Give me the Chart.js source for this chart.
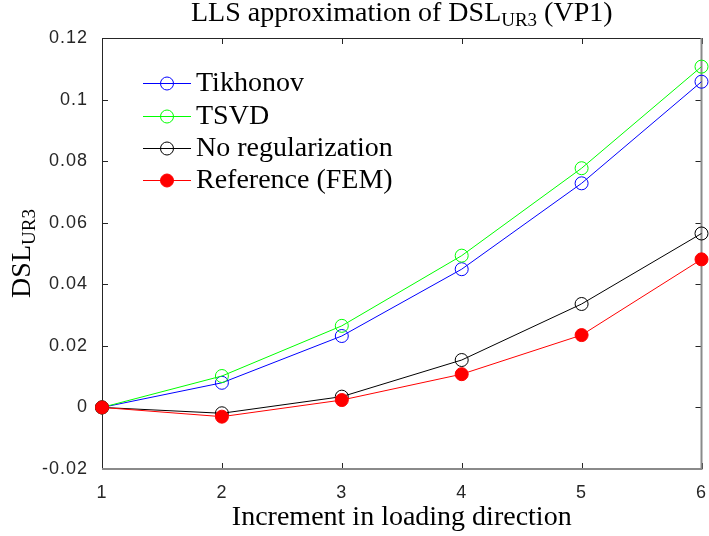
<!DOCTYPE html>
<html>
<head>
<meta charset="utf-8">
<script src="https://cdn.jsdelivr.net/npm/chart.js@4.4.1/dist/chart.umd.min.js"></script>
<style>
  html, body { margin: 0; padding: 0; background: #ffffff; }
  #wrap { width: 709px; height: 536px; }
</style>
</head>
<body>
<div id="wrap"><canvas id="c" width="709" height="536"></canvas></div>
<script>
// Increment index along the loading direction
const increments = [1, 2, 3, 4, 5, 6];

// DSL_UR3 estimates per method
const tikhonov  = [0, 0.0080, 0.0232, 0.0449, 0.0728, 0.1058];
const tsvd      = [0, 0.0102, 0.0265, 0.0493, 0.0777, 0.1107];
const noReg     = [0, -0.0019, 0.0035, 0.0154, 0.0336, 0.0565];
const reference = [0, -0.0030, 0.0024, 0.0108, 0.0235, 0.0481];

const seriesNames = ['Tikhonov', 'TSVD', 'No regularization', 'Reference (FEM)'];

const xTickValues = [1, 2, 3, 4, 5, 6];
const xTickLabels = ['1', '2', '3', '4', '5', '6'];
const yTickValues = [-0.02, 0, 0.02, 0.04, 0.06, 0.08, 0.1, 0.12];
const yTickLabels = ['-0.02', '0', '0.02', '0.04', '0.06', '0.08', '0.1', '0.12'];

const AXIS_COLOR = '#262626';
const SERIF = '"Liberation Serif", "Times New Roman", serif';
const SANS = '"Liberation Sans", Arial, sans-serif';

const toPoints = (vals) => increments.map((x, i) => ({ x: x, y: vals[i] }));

const styles = [
  { color: '#0000ff', filled: false },
  { color: '#00ff00', filled: false },
  { color: '#000000', filled: false },
  { color: '#ff0000', filled: true }
];
const seriesValues = [tikhonov, tsvd, noReg, reference];

const datasets = seriesValues.map((vals, i) => ({
  label: seriesNames[i],
  data: toPoints(vals),
  borderColor: styles[i].color,
  backgroundColor: styles[i].filled ? styles[i].color : 'rgba(0,0,0,0)',
  pointBackgroundColor: styles[i].filled ? styles[i].color : 'rgba(0,0,0,0)',
  pointBorderColor: styles[i].color,
  borderWidth: 1,
  pointBorderWidth: 1,
  pointRadius: 6.5,
  pointHoverRadius: 6.5,
  tension: 0,
  clip: false,
  order: 4 - i
}));

// Text with a lowered subscript run, e.g. DSL + UR3
function drawRuns(ctx, runs, x, y, align) {
  const mainFont = '28px ' + SERIF;
  const subFont = '19px ' + SERIF;
  let total = 0;
  runs.forEach(r => { ctx.font = r.sub ? subFont : mainFont; total += ctx.measureText(r.t).width; });
  let cx = align === 'center' ? x - total / 2 : x;
  ctx.textAlign = 'left';
  ctx.textBaseline = 'alphabetic';
  runs.forEach(r => {
    ctx.font = r.sub ? subFont : mainFont;
    ctx.fillText(r.t, cx, r.sub ? y + 5 : y);
    cx += ctx.measureText(r.t).width;
  });
}

const framePlugin = {
  id: 'frame',
  beforeDraw(chart) {
    // wider tracking for the tick numbers
    chart.ctx.letterSpacing = '1px';
  },
  beforeDatasetsDraw(chart) {
    const ctx = chart.ctx;
    ctx.letterSpacing = '0px';
    const { left, right, top, bottom } = chart.chartArea;
    const xs = chart.scales.x, ys = chart.scales.y;
    ctx.save();
    ctx.strokeStyle = AXIS_COLOR;
    ctx.lineWidth = 1;
    ctx.beginPath();
    xs.ticks.forEach(t => {
      const px = Math.round(xs.getPixelForValue(t.value)) + 0.5;
      ctx.moveTo(px, bottom); ctx.lineTo(px, bottom - 6);
      ctx.moveTo(px, top); ctx.lineTo(px, top + 6);
    });
    ys.ticks.forEach(t => {
      const py = Math.round(ys.getPixelForValue(t.value)) + 0.5;
      ctx.moveTo(left, py); ctx.lineTo(left + 6, py);
      ctx.moveTo(right, py); ctx.lineTo(right - 6, py);
    });
    ctx.stroke();
    // left and top edges
    ctx.beginPath();
    ctx.moveTo(left + 0.5, bottom); ctx.lineTo(left + 0.5, top + 0.5); ctx.lineTo(right, top + 0.5);
    ctx.stroke();
    // bottom and right edges
    ctx.strokeStyle = '#8a8a8a';
    ctx.lineWidth = 2;
    ctx.beginPath();
    ctx.moveTo(left, bottom); ctx.lineTo(right, bottom); ctx.lineTo(right, top);
    ctx.stroke();
    ctx.restore();
  },
  afterDraw(chart) {
    const ctx = chart.ctx;
    const { left, right, top, bottom } = chart.chartArea;
    const cx = (left + right) / 2;
    ctx.save();
    ctx.letterSpacing = '0px';
    ctx.fillStyle = '#000000';

    // title
    drawRuns(ctx, [{ t: 'LLS approximation of DSL' }, { t: 'UR3', sub: true }, { t: ' (VP1)' }], cx, 21, 'center');

    // x axis title
    drawRuns(ctx, [{ t: 'Increment in loading direction' }], cx, 525, 'center');

    // y axis title
    ctx.save();
    ctx.translate(30, (top + bottom) / 2);
    ctx.rotate(-Math.PI / 2);
    drawRuns(ctx, [{ t: 'DSL' }, { t: 'UR3', sub: true }], 0, 0, 'center');
    ctx.restore();

    // legend
    const rowY = [83, 116, 148, 180];
    chart.data.datasets.forEach((ds, i) => {
      const y = rowY[i];
      ctx.strokeStyle = ds.borderColor;
      ctx.lineWidth = 1;
      ctx.beginPath();
      ctx.moveTo(143, y + 0.5); ctx.lineTo(191, y + 0.5);
      ctx.stroke();
      ctx.beginPath();
      ctx.arc(167, y + 0.5, 6.5, 0, Math.PI * 2);
      if (styles[i].filled) { ctx.fillStyle = ds.borderColor; ctx.fill(); }
      ctx.stroke();
      ctx.fillStyle = '#000000';
      ctx.font = '28px ' + SERIF;
      ctx.textAlign = 'left';
      ctx.textBaseline = 'alphabetic';
      ctx.fillText(ds.label, 196, y + 8);
    });
    ctx.restore();
  }
};

new Chart(document.getElementById('c'), {
  type: 'line',
  data: { datasets: datasets },
  options: {
    responsive: false,
    animation: false,
    events: [],
    layout: { padding: { left: 0, top: 38, right: 6, bottom: 0 } },
    plugins: { legend: { display: false }, title: { display: false }, tooltip: { enabled: false } },
    scales: {
      x: {
        type: 'linear',
        min: 1, max: 6,
        grid: { display: false },
        border: { display: false },
        afterBuildTicks: (scale) => { scale.ticks = xTickValues.map(v => ({ value: v })); },
        afterFit: (scale) => { scale.height = 67; scale.paddingLeft = 0; scale.paddingRight = 0; },
        ticks: {
          color: AXIS_COLOR,
          font: { family: SANS, size: 18 },
          padding: 5,
          maxRotation: 0,
          callback: (v) => xTickLabels[xTickValues.indexOf(v)]
        }
      },
      y: {
        type: 'linear',
        min: -0.02, max: 0.12,
        grid: { display: false },
        border: { display: false },
        afterBuildTicks: (scale) => { scale.ticks = yTickValues.map(v => ({ value: v })); },
        afterFit: (scale) => { scale.width = 102; scale.paddingTop = 0; scale.paddingBottom = 0; },
        ticks: {
          color: AXIS_COLOR,
          font: { family: SANS, size: 18 },
          padding: 6,
          callback: (v) => {
            const k = yTickValues.findIndex(t => Math.abs(t - v) < 1e-9);
            return k >= 0 ? yTickLabels[k] : '';
          }
        }
      }
    }
  },
  plugins: [framePlugin]
});
</script>
</body>
</html>
